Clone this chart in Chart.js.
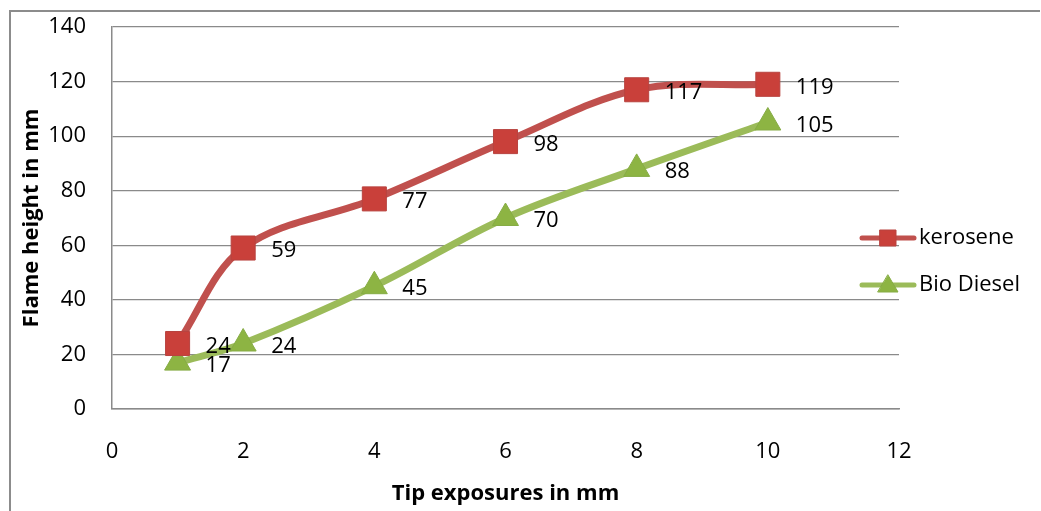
<!DOCTYPE html>
<html>
<head>
<meta charset="utf-8">
<title>Flame height vs tip exposure</title>
<script src="https://cdn.jsdelivr.net/npm/chart.js@4"></script>
<style>
    html, body { margin: 0; padding: 0; background: #fff; }
    #wrap { width: 1041px; height: 511px; }
</style>
</head>
<body>
<div id="wrap"><canvas id="flameChart" width="1041" height="511"></canvas></div>
<script>
// Datos
const tipExposure = [1, 2, 4, 6, 8, 10];
const keroseneHeight = [24, 59, 77, 98, 117, 119];
const bioDieselHeight = [17, 24, 45, 70, 88, 105];
const seriesNames = ['kerosene', 'Bio Diesel'];

const FONT = '"Open Sans", sans-serif';
const GRID = '#8a8a8a';

function toPoints(xs, ys) {
    return xs.map((x, i) => ({ x: x, y: ys[i] }));
}

// Marco del grafico (lineas izquierda y superior)
const framePlugin = {
    id: 'frame',
    beforeDraw(chart) {
        const ctx = chart.ctx;
        ctx.save();
        ctx.strokeStyle = '#8c8c8c';
        ctx.lineWidth = 2;
        ctx.beginPath();
        ctx.moveTo(10, 511);
        ctx.lineTo(10, 11);
        ctx.lineTo(1040, 11);
        ctx.stroke();
        ctx.restore();
    }
};

// Etiquetas de valor a la derecha de cada punto
const valueLabels = {
    id: 'valueLabels',
    afterDatasetsDraw(chart) {
        const ctx = chart.ctx;
        ctx.save();
        ctx.font = '22px ' + FONT;
        ctx.fillStyle = '#000';
        ctx.textAlign = 'left';
        ctx.textBaseline = 'middle';
        chart.data.datasets.forEach((ds, i) => {
            chart.getDatasetMeta(i).data.forEach((pt, j) => {
                ctx.fillText(String(ds.data[j].y), pt.x + 28, pt.y + 3);
            });
        });
        ctx.restore();
    }
};

// Leyenda a la derecha: linea + marcador + texto
const sideLegend = {
    id: 'sideLegend',
    afterDraw(chart) {
        const ctx = chart.ctx;
        const rows = [238, 285];
        ctx.save();
        chart.data.datasets.forEach((ds, i) => {
            const y = rows[i];
            ctx.strokeStyle = ds.borderColor;
            ctx.lineWidth = 5;
            ctx.lineCap = 'round';
            ctx.beginPath();
            ctx.moveTo(862, y);
            ctx.lineTo(914, y);
            ctx.stroke();
            ctx.fillStyle = ds.pointBackgroundColor;
            ctx.strokeStyle = ds.pointBorderColor;
            ctx.lineWidth = 1;
            ctx.beginPath();
            if (ds.pointStyle === 'rect') {
                ctx.rect(880, y - 8, 16, 16);
            } else {
                ctx.moveTo(888, y - 10);
                ctx.lineTo(898, y + 7);
                ctx.lineTo(878, y + 7);
                ctx.closePath();
            }
            ctx.fill();
            ctx.stroke();
            ctx.fillStyle = '#000';
            ctx.font = '22px ' + FONT;
            ctx.textAlign = 'left';
            ctx.textBaseline = 'middle';
            ctx.fillText(ds.label, 919, y);
        });
        ctx.restore();
    }
};

const ctx = document.getElementById('flameChart');
const flameChart = new Chart(ctx, {
    type: 'line',
    data: {
        datasets: [{
            label: seriesNames[0],
            data: toPoints(tipExposure, keroseneHeight),
            borderColor: '#C0504D',
            borderWidth: 7,
            tension: 0.35,
            pointStyle: 'rect',
            pointRadius: 17,
            pointBackgroundColor: '#C9403A',
            pointBorderColor: '#B8433F',
            pointBorderWidth: 1,
        }, {
            label: seriesNames[1],
            data: toPoints(tipExposure, bioDieselHeight),
            borderColor: '#9BBB59',
            borderWidth: 7,
            tension: 0.35,
            pointStyle: 'triangle',
            pointRadius: 15,
            pointBackgroundColor: '#8DB443',
            pointBorderColor: '#86AC45',
            pointBorderWidth: 1,
        }],
    },
    options: {
        responsive: false,
        animation: false,
        layout: {
            padding: { left: 0, top: 27, right: 142, bottom: 0 },
        },
        plugins: {
            legend: { display: false },
            tooltip: { enabled: false },
        },
        scales: {
            x: {
                type: 'linear',
                min: 0,
                max: 12,
                afterFit(scale) { scale.height = 102; },
                ticks: {
                    stepSize: 2,
                    padding: 30,
                    color: '#000',
                    font: { family: FONT, size: 22 },
                },
                grid: { display: false, drawTicks: false },
                border: { display: true, color: GRID, width: 1.5 },
                title: {
                    display: true,
                    text: 'Tip exposures in mm',
                    color: '#000',
                    font: { family: FONT, size: 22, weight: 'bold' },
                    padding: { top: 0, bottom: 4 },
                },
            },
            y: {
                min: 0,
                max: 140,
                afterFit(scale) {
                    scale.width = 112;
                    // la separacion de las etiquetas no debe empujar el area del grafico
                    scale.paddingTop = 0;
                    scale.paddingBottom = 0;
                },
                ticks: {
                    stepSize: 20,
                    padding: 26,
                    color: '#000',
                    font: { family: FONT, size: 22 },
                },
                grid: { color: GRID, lineWidth: 1.2, drawTicks: false },
                border: { display: true, color: GRID, width: 1.5 },
                title: {
                    display: true,
                    text: 'Flame height in mm',
                    color: '#000',
                    font: { family: FONT, size: 22, weight: 'bold' },
                    padding: { top: 19, bottom: 0 },
                },
            },
        },
    },
    plugins: [framePlugin, valueLabels, sideLegend],
});
</script>
</body>
</html>
